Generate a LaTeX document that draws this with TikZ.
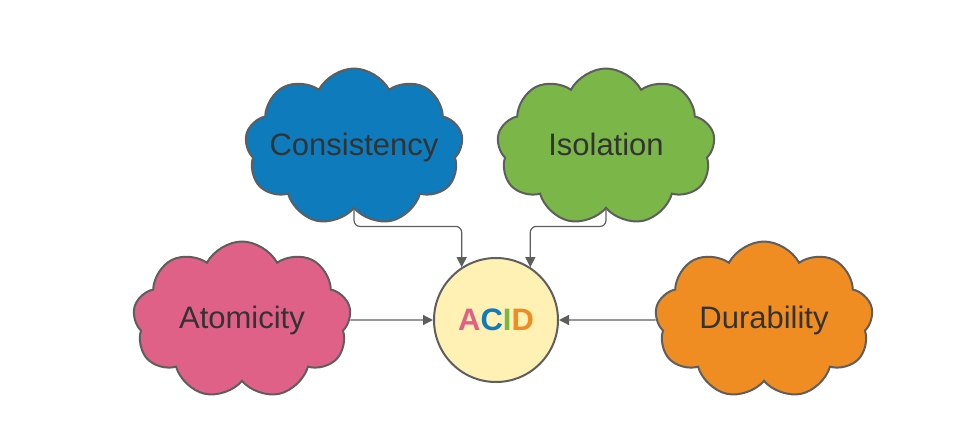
\documentclass[tikz,border=0pt]{standalone}
\usepackage{fontspec}
\setmainfont{Liberation Sans}
\usetikzlibrary{shapes.symbols, arrows.meta}
\usepackage{xcolor}
\definecolor{myblue}{HTML}{0E7BBD}
\definecolor{mygreen}{HTML}{7AB648}
\definecolor{mypink}{HTML}{E06187}
\definecolor{myorange}{HTML}{F08D22}
\definecolor{myyellow}{HTML}{FFF0B3}
\definecolor{myline}{HTML}{5E5E5E}
\definecolor{mytext}{HTML}{333333}
\newcommand{\cloudtext}[1]{\makebox[0pt]{\raisebox{3pt}{#1}}}

\begin{document}
\begin{tikzpicture}[x=0.5pt, y=-0.5pt, >={Triangle[length=5pt, width=5pt]},
    font=\fontsize{15.5}{18}\selectfont,
    idea/.style={cloud, cloud puffs=9, cloud puff arc=125, cloud ignores aspect,
        minimum width=109pt, minimum height=78.5pt, draw=myline, line width=1pt,
        text=mytext, inner sep=0pt},
    link/.style={->, draw=myline, line width=0.6pt, rounded corners=3pt}]
    \useasboundingbox (0,0) rectangle (975,434);
    % the four properties
    \node[idea, fill=myblue]   (cons) at (354,147) {\cloudtext{Consistency}};
    \node[idea, fill=mygreen]  (iso)  at (606,147) {\cloudtext{Isolation}};
    \node[idea, fill=mypink]   (atom) at (242,320) {\cloudtext{Atomicity}};
    \node[idea, fill=myorange] (dur)  at (764,320) {\cloudtext{Durability}};
    % centre
    \node[circle, draw=myline, line width=1pt, fill=myyellow, minimum size=62pt,
        font=\fontsize{15.5}{18}\selectfont\bfseries] (acid) at (496,320)
        {\textcolor{mypink}{A}\textcolor{myblue}{C}\textcolor{mygreen}{I}\textcolor{myorange}{D}};
    % connectors
    \draw[link] (cons.south) -- ++(0,17) -| (acid.123);
    \draw[link] (iso.south) -- ++(0,17) -| (acid.57);
    \draw[link] (atom) -- (acid);
    \draw[link] (dur) -- (acid);
\end{tikzpicture}
\end{document}
